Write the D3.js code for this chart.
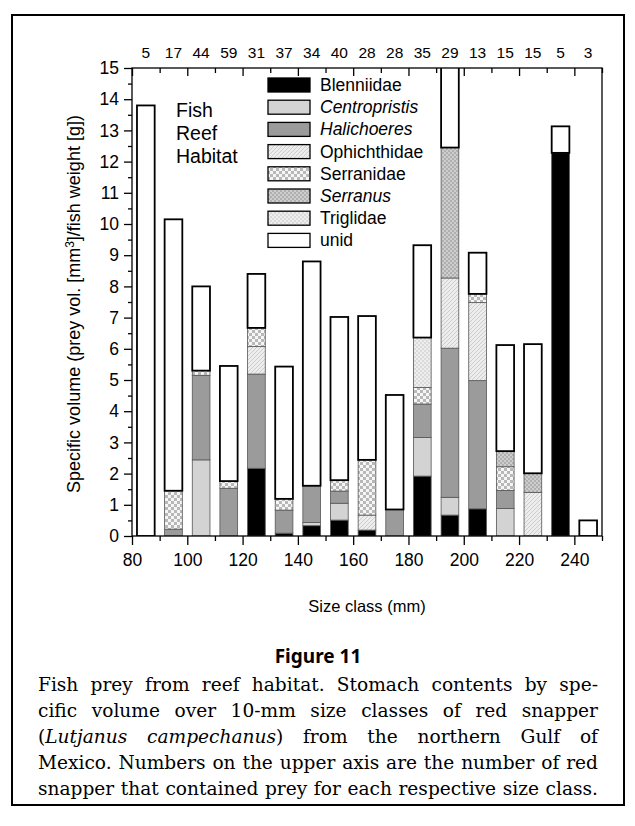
<!DOCTYPE html>
<html><head><meta charset="utf-8">
<script src="https://cdn.jsdelivr.net/npm/d3@7"></script>
<style>
html,body{margin:0;padding:0;background:#fff;}
svg{display:block;}
</style></head>
<body>
<script>
// ---- data ----
const sizeClasses = [85,95,105,115,125,135,145,155,165,175,185,195,205,215,225,235,245];
const sampleCounts = [5,17,44,59,31,37,34,40,28,28,35,29,13,15,15,5,3];
const taxa = ["Blenniidae","Centropristis","Halichoeres","Ophichthidae","Serranidae","Serranus","Triglidae","unid"];
const italicTaxa = ["Centropristis","Halichoeres","Serranus"];
const blenniidae   = [0,0,0,0,2.17,0.09,0.33,0.51,0.19,0,1.92,0.67,0.87,0,0,12.28,0];
const centropristis= [0,0,2.44,0,0,0,0.10,0.54,0,0,1.24,0.57,0,0.88,0,0,0];
const halichoeres  = [0,0.22,2.71,1.53,3.02,0.74,1.18,0.39,0,0.85,1.07,4.78,4.11,0.58,0,0,0];
const ophichthidae = [0,0,0,0,0.88,0,0,0,0.48,0,0,2.25,2.50,0,1.40,0,0];
const serranidae   = [0,1.23,0.15,0.23,0.60,0.36,0,0.35,1.77,0,0.53,0,0.28,0.76,0,0,0];
const serranus     = [0,0,0,0,0,0,0,0,0,0,0,4.18,0,0.50,0.61,0,0];
const triglidae    = [0,0,0,0,0,0,0,0,0,0,1.60,0,0,0,0,0,0];
const unid         = [13.8,8.70,2.70,3.69,1.73,4.24,7.19,5.23,4.61,3.67,2.96,3.00,1.32,3.40,4.14,0.85,0.50];
const yTicks = [0,1,2,3,4,5,6,7,8,9,10,11,12,13,14,15];
const xTicks = [80,100,120,140,160,180,200,220,240];
const captionLines = [
  [["Fish prey from reef habitat. Stomach contents by spe-",false]],
  [["cific volume over 10-mm size classes of red snapper",false]],
  [["(",false],["Lutjanus campechanus",true],[") from the northern Gulf of",false]],
  [["Mexico. Numbers on the upper axis are the number of red",false]],
  [["snapper that contained prey for each respective size class.",false]]
];

const W=635,H=826;
const svg=d3.select("body").append("svg").attr("width",W).attr("height",H);
const defs=svg.append("defs");

// patterns
function checker(id,size,c1,c2){
  const p=defs.append("pattern").attr("id",id).attr("patternUnits","userSpaceOnUse")
    .attr("width",size*2).attr("height",size*2);
  p.append("rect").attr("width",size*2).attr("height",size*2).attr("fill",c1);
  p.append("rect").attr("width",size).attr("height",size).attr("fill",c2);
  p.append("rect").attr("x",size).attr("y",size).attr("width",size).attr("height",size).attr("fill",c2);
}
checker("pSerranidae",3,"#f6f6f6","#b8b8b8");
checker("pSerranus",2,"#b0b0b0","#cdcdcd");
checker("pTriglidae",2,"#dadada","#eeeeee");
{
  const p=defs.append("pattern").attr("id","pOphi").attr("patternUnits","userSpaceOnUse")
   .attr("width",4).attr("height",4);
  p.append("rect").attr("width",4).attr("height",4).attr("fill","#ededed");
  p.append("path").attr("d","M0,4L4,0M-1,1L1,-1M3,5L5,3").attr("stroke","#cdcdcd").attr("stroke-width",1);
}
const fills={Blenniidae:"#000",Centropristis:"#d3d3d3",Halichoeres:"#9b9b9b",
  Ophichthidae:"url(#pOphi)",Serranidae:"url(#pSerranidae)",Serranus:"url(#pSerranus)",
  Triglidae:"url(#pTriglidae)",unid:"#fff"};
const series={Blenniidae:blenniidae,Centropristis:centropristis,Halichoeres:halichoeres,
  Ophichthidae:ophichthidae,Serranidae:serranidae,Serranus:serranus,Triglidae:triglidae,unid:unid};

// outer frame
svg.append("rect").attr("x",12).attr("y",15).attr("width",612).attr("height",790)
  .attr("fill","none").attr("stroke","#000").attr("stroke-width",2);

const L=132,R=602,T=68,B=536;
const x=d3.scaleLinear().domain([80,250]).range([L,R]);
const y=d3.scaleLinear().domain([0,15]).range([B,T]);

defs.append("clipPath").attr("id","plotclip").append("rect")
  .attr("x",L).attr("y",T).attr("width",R-L).attr("height",B-T);

// stacked bars
const table=sizeClasses.map((c,i)=>{const o={c};taxa.forEach(t=>o[t]=series[t][i]);return o;});
const stacked=d3.stack().keys(taxa)(table);
const barW=x(86.4)-x(80);
const g=svg.append("g").attr("clip-path","url(#plotclip)");
stacked.forEach(layer=>{
  const key=layer.key;
  g.selectAll(null).data(layer.filter(d=>d[1]-d[0]>0)).enter().append("rect")
   .attr("x",d=>x(d.data.c)-barW/2).attr("width",barW)
   .attr("y",d=>y(d[1])).attr("height",d=>y(d[0])-y(d[1]))
   .attr("fill",fills[key])
   .attr("stroke",key==="unid"?"#000":"#555")
   .attr("stroke-width",key==="unid"?1.8:0.8);
});

// axes
const font="'Liberation Sans', Arial, Helvetica, sans-serif";
const ax=svg.append("g").attr("font-family",font);
ax.append("rect").attr("x",L).attr("y",T).attr("width",R-L).attr("height",B-T)
  .attr("fill","none").attr("stroke","#000").attr("stroke-width",1.3);

const xb=ax.append("g").attr("transform",`translate(0,${B})`)
  .call(d3.axisBottom(x).tickValues(xTicks).tickSize(9).tickPadding(9).tickFormat(d3.format("d")));
const xbm=ax.append("g").attr("transform",`translate(0,${B})`)
  .call(d3.axisBottom(x).tickValues(d3.range(90,251,20)).tickSize(5).tickFormat(""));
const xt=ax.append("g").attr("transform",`translate(0,${T})`)
  .call(d3.axisTop(x).tickValues(xTicks).tickSize(-8).tickFormat(""));
const xtm=ax.append("g").attr("transform",`translate(0,${T})`)
  .call(d3.axisTop(x).tickValues(d3.range(90,251,20)).tickSize(-5).tickFormat(""));
const yl=ax.append("g").attr("transform",`translate(${L},0)`)
  .call(d3.axisLeft(y).tickValues(yTicks).tickSize(8).tickPadding(5));
const ylm=ax.append("g").attr("transform",`translate(${L},0)`)
  .call(d3.axisLeft(y).tickValues(d3.range(0.5,15,1)).tickSize(4).tickFormat(""));
[xb,xbm,xt,xtm,yl,ylm].forEach(a=>{a.select(".domain").remove();
  a.attr("font-family",font);
  a.selectAll("line").attr("stroke","#000").attr("stroke-width",1.3);});
xb.selectAll("text").attr("font-size",17.5).attr("fill","#000");
yl.selectAll("text").attr("font-size",17.5).attr("fill","#000");

// top counts
ax.selectAll(null).data(sampleCounts).enter().append("text")
  .attr("x",(d,i)=>x(sizeClasses[i])).attr("y",58).attr("text-anchor","middle")
  .attr("font-size",15.5).text(d=>d);

// axis titles
ax.append("text").attr("x",(L+R)/2).attr("y",612).attr("text-anchor","middle")
  .attr("font-size",16.5).text("Size class (mm)");
const yt=ax.append("text").attr("transform",`translate(80,${(T+B)/2+2}) rotate(-90)`)
  .attr("text-anchor","middle").attr("font-size",18);
yt.append("tspan").text("Specific volume (prey vol. [mm");
yt.append("tspan").attr("font-size",12).attr("dy",-6).text("3");
yt.append("tspan").attr("dy",6).text("]/fish weight [g])");

// inset label
["Fish","Reef","Habitat"].forEach((t,i)=>ax.append("text").attr("x",176).attr("y",117+i*23)
  .attr("font-size",19.5).text(t));

// legend
const lg=ax.append("g");
taxa.forEach((t,i)=>{
  const yy=78+i*22.2;
  lg.append("rect").attr("x",268).attr("y",yy).attr("width",42).attr("height",14)
    .attr("fill",fills[t]).attr("stroke","#000").attr("stroke-width",1.3);
  lg.append("text").attr("x",320).attr("y",yy+13).attr("font-size",17.5)
    .attr("font-style",italicTaxa.includes(t)?"italic":"normal").text(t);
});

// figure caption
svg.append("text").attr("x",318).attr("y",663).attr("text-anchor","middle")
  .attr("font-family","'Noto Sans','DejaVu Sans',sans-serif").attr("font-weight","bold")
  .attr("font-size",19).text("Figure 11");

const capL=38,capR=598,capFont="'DejaVu Serif', serif";
const lineGroups=captionLines.map(parts=>{
  const groups=[];
  parts.forEach(([s,it])=>{
    const toks=s.split(" ");
    toks.forEach((w,k)=>{
      if(w==="") return;
      const attach=(k===0 && groups.length>0);
      if(attach) groups[groups.length-1].push({w,it}); else groups.push([{w,it}]);
    });
  });
  return groups;
});
function measure(gr,fs){
  const t=svg.append("text").attr("font-family",capFont).attr("font-size",fs);
  gr.forEach(wd=>t.append("tspan").attr("font-style",wd.it?"italic":"normal").text(wd.w));
  const w=t.node().getComputedTextLength(); t.remove(); return w;
}
const testFs=10;
const spaceW=(()=>{const a=measure([{w:"a a",it:false}],testFs),b=measure([{w:"aa",it:false}],testFs);return a-b;})();
const natural=lineGroups.map(gs=>d3.sum(gs,gr=>measure(gr,testFs))+spaceW*(gs.length-1));
const capFs=testFs*(capR-capL)/d3.max(natural)*0.99;
lineGroups.forEach((groups,li)=>{
  const yy=691+li*26;
  const widths=groups.map(gr=>measure(gr,capFs));
  const gap=(capR-capL-d3.sum(widths))/(groups.length-1);
  let cx=capL;
  const cg=svg.append("g").attr("font-family",capFont).attr("font-size",capFs);
  groups.forEach((gr,gi)=>{
    const t=cg.append("text").attr("x",cx).attr("y",yy);
    gr.forEach(wd=>t.append("tspan").attr("font-style",wd.it?"italic":"normal").text(wd.w));
    cx+=widths[gi]+gap;
  });
});
</script>
</body></html>
